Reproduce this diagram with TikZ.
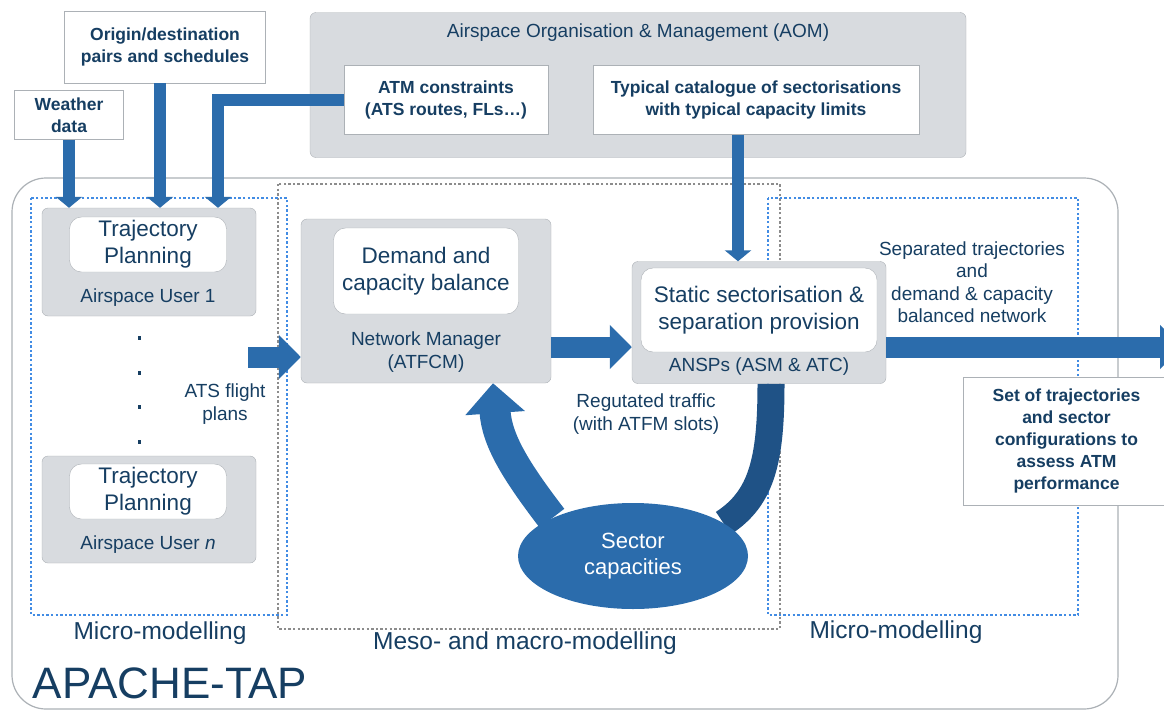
\documentclass[tikz,border=0pt]{standalone}
\usepackage{fontspec}
\setmainfont{Liberation Sans}
\usetikzlibrary{arrows.meta,shapes.geometric}
\definecolor{navy}{RGB}{22,62,98}
\definecolor{arrowblue}{RGB}{43,108,172}
\definecolor{darkband}{RGB}{31,82,134}
\definecolor{panelgray}{RGB}{216,219,223}
\definecolor{edgegray}{RGB}{172,177,182}
\definecolor{dotblue}{RGB}{66,140,228}
\definecolor{dotgray}{RGB}{140,140,140}
\pgfdeclarelayer{frames}
\pgfdeclarelayer{bands}
\pgfsetlayers{frames,bands,main}
\tikzset{
  panel/.style={draw=edgegray,fill=panelgray,rounded corners=6pt,inner sep=0pt},
  card/.style={draw=edgegray,fill=white,rounded corners=12pt,inner sep=0pt,align=center,text=navy,font=\fontsize{22.5}{27}\selectfont},
  datanote/.style={draw=edgegray,fill=white,inner sep=0pt,align=center,text=navy,font=\fontsize{17.5}{22}\selectfont\bfseries},
  caption/.style={text=navy,align=center,font=\fontsize{19}{22.5}\selectfont},
  areaname/.style={text=navy,font=\fontsize{24.5}{28}\selectfont},
  feed/.style={draw=arrowblue,line width=12pt,-{Triangle[length=11pt,width=26pt]}},
  flow/.style={draw=arrowblue,line width=21pt,-{Triangle[length=22pt,width=43pt]}},
  modelarea/.style={line width=2.6pt,dash pattern=on 2.4pt off 2.2pt}
}
\begin{document}
\begin{tikzpicture}[x=1pt,y=-1pt]
\useasboundingbox (0,0) rectangle (1164,712);

% modelling areas
\begin{pgfonlayer}{frames}
\fill[white] (0,0) rectangle (1164,712);
\draw[edgegray,line width=1.2pt,fill=white,rounded corners=34pt] (12,178) rectangle (1118,709);
\draw[modelarea,dotgray] (278,184) rectangle (780,629);
\draw[modelarea,dotblue] (31,198) rectangle (287,615);
\draw[modelarea,dotblue] (768,198) rectangle (1078,615);
\end{pgfonlayer}

% inputs
\node[panel,minimum width=656pt,minimum height=145pt] (aom) at (638,85) {};
\node[caption] (aomtitle) at (638,33) {Airspace Organisation \& Management (AOM)};
\node[datanote,minimum width=204pt,minimum height=69pt] (atm) at (446,100) {ATM constraints\\(ATS routes, FLs…)};
\node[datanote,minimum width=326pt,minimum height=69pt] (cat) at (756,100) {Typical catalogue of sectorisations\\with typical capacity limits};
\node[datanote,minimum width=201pt,minimum height=72pt] (od) at (165,47) {Origin/destination\\pairs and schedules};
\node[datanote,minimum width=109pt,minimum height=49pt] (wx) at (69,115) {Weather\\data};

% airspace users
\node[panel,minimum width=214pt,minimum height=108pt] (au1) at (149,262) {};
\node[card,minimum width=157pt,minimum height=55pt] (tp1) at (148,244.5) {Trajectory\\Planning};
\node[caption] (au1lbl) at (148,298) {Airspace User 1};
\node[panel,minimum width=214pt,minimum height=107pt] (aun) at (149,509.5) {};
\node[card,minimum width=157pt,minimum height=55pt] (tpn) at (148,491.5) {Trajectory\\Planning};
\node[caption] (aunlbl) at (148,545) {Airspace User \textit{n}};
\foreach \y in {338,373,407,442}
  \fill[navy] (137.8,\y-1.8) rectangle +(3.6,3.6);
\node[caption] (ats) at (225,404) {ATS flight\\plans};

% network manager and ANSPs
\node[panel,minimum width=250pt,minimum height=164pt] (nm) at (426,301) {};
\node[card,minimum width=185pt,minimum height=86pt] (dcb) at (426,271) {Demand and\\capacity balance};
\node[caption] (nmlbl) at (426,352) {Network Manager\\(ATFCM)};
\node[panel,minimum width=254pt,minimum height=122pt] (ansp) at (759,322.5) {};
\node[card,minimum width=236pt,minimum height=84pt] (ssp) at (759,310) {Static sectorisation \&\\separation provision};
\node[caption] (ansplbl) at (759,367) {ANSPs (ASM \& ATC)};
\node[caption] (reg) at (646,414) {Regutated traffic\\(with ATFM slots)};
\node[ellipse,fill=arrowblue,inner sep=0pt,minimum width=230pt,minimum height=106pt,text=white,align=center,font=\fontsize{22}{26}\selectfont] (sc) at (633,556) {Sector\\capacities};

% outputs
\node[caption] (sep) at (972,282) {Separated trajectories\\and\\demand \& capacity\\balanced network};
\node[datanote,minimum width=207pt,minimum height=128pt] (perf) at (1066.5,441) {Set of trajectories\\and sector\\configurations to\\assess ATM\\performance};

\node[areaname] (microl) at (160,633) {Micro-modelling};
\node[areaname] (meso) at (525,643) {Meso- and macro-modelling};
\node[areaname] (micror) at (896,632) {Micro-modelling};
\node[text=navy,font=\fontsize{44}{48}\selectfont] (tap) at (170,683) {APACHE-TAP};

% connectors
\coordinate (atsstart) at (248,357);
\coordinate (flowy) at (0,347);
\coordinate (outtip) at (1182,347);
\draw[feed] (wx.south) -- (wx.south |- au1.north);
\draw[feed] ([xshift=-5pt]od.south) -- ([xshift=-5pt]od.south |- au1.north);
\draw[feed] (atm.west) -| ([xshift=69pt]au1.north);
\draw[feed] ([xshift=-18pt]cat.south) -- ([xshift=-18pt]cat.south |- ansp.north);
\draw[flow] (atsstart) -- (atsstart -| nm.west);
\draw[flow] (nm.east |- flowy) -- (ansp.west |- flowy);
\draw[flow] (ansp.east |- flowy) -- (outtip);
\begin{pgfonlayer}{bands}
\draw[darkband,line width=27pt] ([xshift=12pt]ansp.south) .. controls (771,460) and (762,498) .. (sc.20);
\draw[arrowblue,line width=31pt,-{Triangle[length=30pt,width=58pt]}] (sc.155) .. controls (515,470) and (497,440) .. ([xshift=67pt]nm.south);
\end{pgfonlayer}
\end{tikzpicture}
\end{document}
